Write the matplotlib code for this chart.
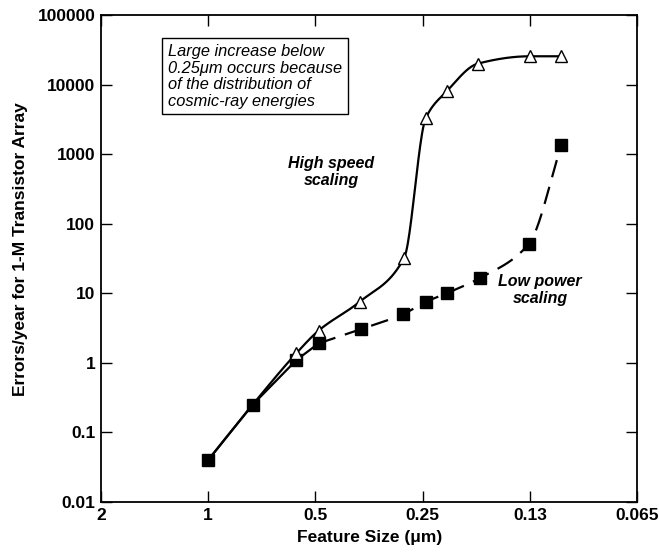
import numpy as np
import matplotlib
matplotlib.use("Agg")
import matplotlib.pyplot as plt

plt.rcParams['font.family'] = ['Liberation Sans', 'DejaVu Sans']

# data (feature size in um, errors/year)
shared_x = [1.0, 0.75, 0.565]
shared_y = [0.04, 0.25, 1.1]

high_x = [0.565, 0.49, 0.375, 0.282, 0.245, 0.214, 0.175, 0.125, 0.1025]
high_y = [1.38, 2.9, 7.6, 32, 3300, 8000, 20000, 25500, 25500]

low_x = [0.49, 0.372, 0.284, 0.244, 0.214, 0.173, 0.126, 0.102]
low_y = [1.9, 3.05, 5.0, 7.6, 10, 16.5, 51, 1350]

tick_pos = [2, 1, 0.5, 0.25, 0.125, 0.0625]
tick_labels = ["2", "1", "0.5", "0.25", "0.13", "0.065"]
ytick_vals = [0.01, 0.1, 1, 10, 100, 1000, 10000, 100000]
ytick_labels = ["0.01", "0.1", "1", "10", "100", "1000", "10000", "100000"]


def pchip(x, y, xn):
    """Monotone cubic curve through (x, y), used only to draw a smooth line."""
    x = np.asarray(x, float)
    y = np.asarray(y, float)
    h = np.diff(x)
    d = np.diff(y) / h
    m = np.zeros_like(y)
    for k in range(1, len(x) - 1):
        if d[k - 1] * d[k] > 0:
            w1 = 2 * h[k] + h[k - 1]
            w2 = h[k] + 2 * h[k - 1]
            m[k] = (w1 + w2) / (w1 / d[k - 1] + w2 / d[k])
    m[0] = d[0]
    m[-1] = d[-1]
    idx = np.clip(np.searchsorted(x, xn) - 1, 0, len(x) - 2)
    t = (xn - x[idx]) / h[idx]
    h00 = 2 * t**3 - 3 * t**2 + 1
    h10 = t**3 - 2 * t**2 + t
    h01 = -2 * t**3 + 3 * t**2
    h11 = t**3 - t**2
    return (h00 * y[idx] + h10 * h[idx] * m[idx] + h01 * y[idx + 1]
            + h11 * h[idx] * m[idx + 1])


def smooth(xs, ys, n=400):
    # work in log-log space, x increasing
    lx = -np.log10(xs)
    ly = np.log10(ys)
    xn = np.linspace(lx[0], lx[-1], n)
    return 10 ** (-xn), 10 ** pchip(lx, ly, xn)


fig = plt.figure(figsize=(6.59, 5.55), dpi=100)
ax = fig.add_axes([0.153, 0.0955, 0.814, 0.8775])
ax.set_xscale('log')
ax.set_yscale('log')

lw = 1.6
# shared part at large feature sizes (solid)
ax.plot(shared_x, shared_y, color='black', lw=lw)
# high speed scaling (solid smooth)
hx, hy = smooth(np.array(shared_x[:2] + high_x), np.array(shared_y[:2] + high_y))
ax.plot(hx, hy, color='black', lw=lw)
# low power: solid between 0.565 and 0.5, dashed beyond
ax.plot([shared_x[-1], low_x[0]], [shared_y[-1], low_y[0]], color='black', lw=lw)
lx_, ly_ = smooth(np.array(low_x), np.array(low_y))
ax.plot(lx_, ly_, color='black', lw=lw, dashes=(8, 4.5))

ax.plot(shared_x, shared_y, 's', color='black', ms=8, zorder=5)
ax.plot(low_x, low_y, 's', color='black', ms=8, zorder=5)
ax.plot(high_x, high_y, '^', mfc='white', mec='black', mew=1.0, ms=8.5, zorder=6)

ax.set_xlim(2, 0.0625)
ax.set_ylim(0.01, 100000)
ax.set_xticks(tick_pos)
ax.set_xticklabels(tick_labels)
ax.set_yticks(ytick_vals)
ax.set_yticklabels(ytick_labels)
ax.minorticks_off()
ax.tick_params(direction='in', length=8, width=1, top=True, right=True,
               labelsize=12.5, pad=4)
for lab in ax.get_xticklabels() + ax.get_yticklabels():
    lab.set_fontweight('bold')
for s in ax.spines.values():
    s.set_linewidth(1.3)

ax.set_xlabel('Feature Size (\u03bcm)', fontsize=12.5, fontweight='bold')
ax.set_ylabel('Errors/year for 1-M Transistor Array', fontsize=12.5,
              fontweight='bold')
ax.xaxis.set_label_coords(0.502, -0.058)
ax.yaxis.set_label_coords(-0.135, 0.52)

ax.text(0.125, 0.94,
        "Large increase below\n0.25\u03bcm occurs because\nof the distribution of\ncosmic-ray energies",
        transform=ax.transAxes, fontsize=11.8, style='italic', va='top', ha='left',
        linespacing=1.12,
        bbox=dict(boxstyle='square,pad=0.35', fc='white', ec='black', lw=1))

# labels placed in pixel coords (origin bottom-left)
H = 555
ax.text(331, H - 172, "High speed\nscaling", transform=None, fontsize=11.5,
        fontweight='bold', style='italic', ha='center', va='center',
        linespacing=1.15)
ax.text(540, H - 290, "Low power\nscaling", transform=None, fontsize=11.5,
        fontweight='bold', style='italic', ha='center', va='center',
        linespacing=1.15)

fig.savefig('out.png', dpi=100)
